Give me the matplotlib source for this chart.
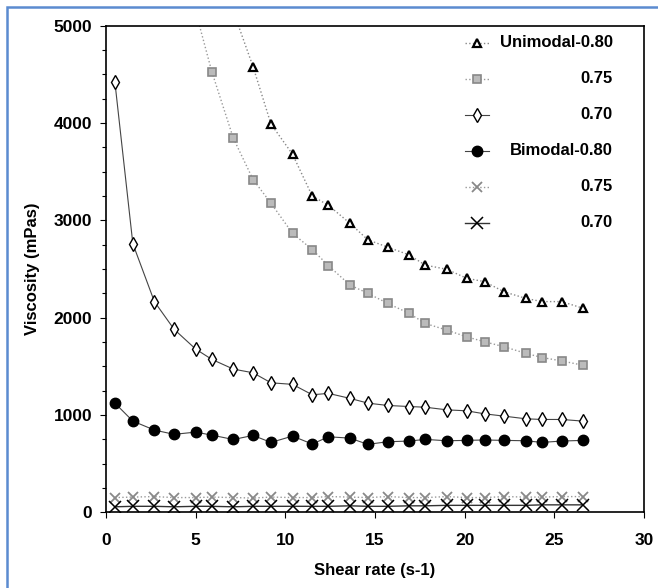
import matplotlib
matplotlib.use("Agg")
import matplotlib.pyplot as plt
from matplotlib.patches import Rectangle
from matplotlib.ticker import MultipleLocator

plt.rcParams['font.family'] = ['Liberation Sans', 'DejaVu Sans']

# shear rate (s-1), shared by all series
shear = [0.5, 1.5, 2.7, 3.8, 5.0, 5.9, 7.1, 8.2, 9.2, 10.4, 11.5, 12.4, 13.6,
         14.6, 15.7, 16.9, 17.8, 19.0, 20.1, 21.1, 22.2, 23.4, 24.3, 25.4, 26.6]

# viscosity (mPas); unimodal 0.80 / 0.75 start off the top of the chart
uni_080 = [5150, 4580, 3990, 3680, 3250, 3155, 2970, 2800, 2725, 2645,
           2540, 2497, 2405, 2370, 2265, 2198, 2165, 2165, 2096]
uni_075 = [5150, 4530, 3845, 3420, 3176, 2867, 2700, 2535, 2335, 2250, 2147,
           2044, 1940, 1872, 1803, 1752, 1700, 1633, 1590, 1555, 1510]
uni_070 = [4420, 2760, 2165, 1880, 1677, 1571, 1471, 1433, 1330, 1314, 1207,
           1221, 1170, 1121, 1097, 1086, 1079, 1052, 1042, 1011, 987, 960,
           953, 953, 936]
bi_080 = [1121, 936, 844, 800, 823, 792, 747, 789, 717, 782, 700, 775, 761,
          697, 724, 731, 748, 734, 738, 742, 738, 734, 717, 731, 738]
bi_075 = [150, 155, 160, 150, 150, 155, 150, 145, 155, 150, 150, 160, 155,
          150, 160, 150, 150, 160, 150, 150, 160, 155, 155, 160, 160]
bi_070 = [55, 60, 60, 55, 60, 60, 55, 60, 60, 60, 60, 60, 65,
          60, 60, 65, 65, 70, 70, 70, 70, 70, 75, 75, 75]

labels = ["Unimodal-0.80", "0.75", "0.70", "Bimodal-0.80", "0.75", "0.70"]

fig = plt.figure(figsize=(6.58, 5.88), dpi=100)
ax = fig.add_axes([0.161, 0.129, 0.818, 0.827])

styles = [
    dict(ls=':', color='#888888', lw=1.0, marker='^', ms=6, mfc='white', mec='black', mew=1.6),
    dict(ls=':', color='#999999', lw=1.0, marker='s', ms=6, mfc='#bbbbbb', mec='#888888', mew=1.2),
    dict(ls='-', color='#444444', lw=0.8, marker='d', ms=7, mfc='white', mec='black', mew=1.0),
    dict(ls='-', color='#444444', lw=0.8, marker='o', ms=7.5, mfc='black', mec='black'),
    dict(ls=':', color='#999999', lw=1.0, marker='x', ms=7.5, mec='#888888', mew=1.3),
    dict(ls='-', color='#333333', lw=1.0, marker='x', ms=8, mec='black', mew=1.1),
]
series = [(shear[6:], uni_080), (shear[4:], uni_075), (shear, uni_070),
          (shear, bi_080), (shear, bi_075), (shear, bi_070)]

for (xs, ys), st in zip(series, styles):
    ax.plot(xs, ys, **st)

# legend drawn by hand: marker on the left, right-aligned text
for i, (lab, st) in enumerate(zip(labels, styles)):
    yy = 0.965 - i * 0.074
    ax.plot([0.668, 0.690, 0.712], [yy, yy, yy], transform=ax.transAxes,
            clip_on=False, markevery=[1], **st)
    ax.text(0.942, yy, lab, transform=ax.transAxes, ha='right', va='center',
            fontsize=12, fontweight='bold')

ax.set_xlim(0, 30)
ax.set_ylim(0, 5000)
ax.xaxis.set_major_locator(MultipleLocator(5))
ax.yaxis.set_major_locator(MultipleLocator(1000))
ax.yaxis.set_minor_locator(MultipleLocator(250))
ax.tick_params(axis='both', which='major', length=4, width=0.8, labelsize=12.5, pad=6)
ax.tick_params(axis='x', which='major', pad=11)
ax.tick_params(axis='y', which='minor', length=3, width=0.8)
for t in ax.get_xticklabels() + ax.get_yticklabels():
    t.set_fontweight('bold')
for s in ax.spines.values():
    s.set_linewidth(1.2)

ax.set_xlabel("Shear rate (s-1)", fontsize=12, fontweight='bold', labelpad=11)
ax.set_ylabel("Viscosity (mPas)", fontsize=12, fontweight='bold', labelpad=10)

fig.patches.append(Rectangle((7 / 658, -0.05), 1.2, 1 - 7 / 588 + 0.05,
                             transform=fig.transFigure, fill=False,
                             edgecolor='#5b8bd0', lw=1.8))

fig.savefig("out.png", dpi=100)
